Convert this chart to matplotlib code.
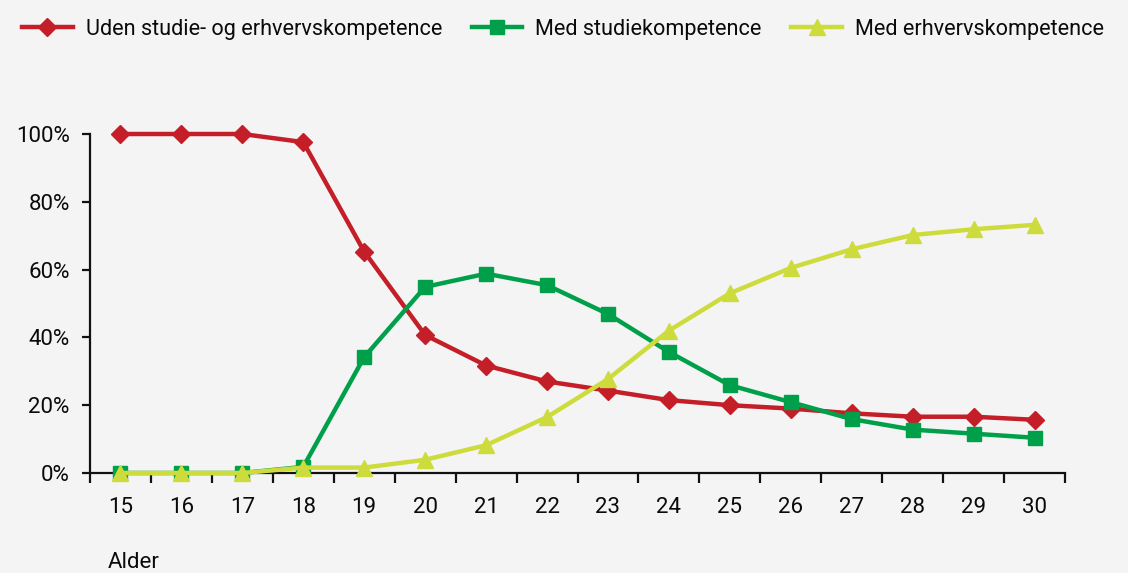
import matplotlib
matplotlib.use("Agg")
import matplotlib.pyplot as plt
from matplotlib.ticker import FixedLocator, NullFormatter, FixedFormatter

ages = list(range(15, 31))
age_labels = [str(a) for a in ages]
uden = [100, 100, 100, 97.6, 65.3, 40.7, 31.7, 27.0, 24.3, 21.5, 20.0, 19.0, 17.6, 16.6, 16.6, 15.7]
studie = [0, 0, 0, 1.8, 34.2, 54.9, 58.8, 55.4, 46.9, 35.7, 25.9, 20.9, 15.9, 12.8, 11.6, 10.4]
erhverv = [0, 0, 0, 1.6, 1.6, 3.9, 8.2, 16.5, 27.7, 42.0, 53.0, 60.5, 66.0, 70.2, 71.9, 73.2]
series_names = ["Uden studie- og erhvervskompetence", "Med studiekompetence", "Med erhvervskompetence"]
y_ticks = [0, 20, 40, 60, 80, 100]
y_labels = ["0%", "20%", "40%", "60%", "80%", "100%"]

bg = "#f4f4f4"
plt.rcParams['font.family'] = ['Roboto', 'DejaVu Sans']
fs = 16
tc = "#0a0a0a"

fig = plt.figure(figsize=(11.28, 5.73), dpi=100, facecolor=bg)
ax = fig.add_axes([90/1128, 1-473/573, (1065-90)/1128, (473-134)/573])
ax.set_facecolor(bg)

red = "#c41e28"
green = "#00a04b"
yellow = "#cddc3c"
lw = 3.2
l1, = ax.plot(ages, uden, color=red, lw=lw, marker="D", ms=9.5, clip_on=False, zorder=3, label=series_names[0])
l2, = ax.plot(ages, studie, color=green, lw=lw, marker="s", ms=10.5, clip_on=False, zorder=4, label=series_names[1])
l3, = ax.plot(ages, erhverv, color=yellow, lw=lw, marker="^", ms=12, clip_on=False, zorder=5, label=series_names[2])

ax.set_xlim(14.5, 30.5)
ax.set_ylim(0, 100)

for s in ["top", "right"]:
    ax.spines[s].set_visible(False)
for s in ["left", "bottom"]:
    ax.spines[s].set_linewidth(1.6)
    ax.spines[s].set_color("#111111")

ax.xaxis.set_major_locator(FixedLocator([a + 0.5 for a in [14] + ages]))
ax.xaxis.set_major_formatter(NullFormatter())
ax.xaxis.set_minor_locator(FixedLocator(ages))
ax.xaxis.set_minor_formatter(FixedFormatter(age_labels))
ax.tick_params(axis="x", which="major", direction="out", length=7.5, width=1.6, color="#111111")
ax.tick_params(axis="x", which="minor", length=0, pad=17, labelsize=fs, labelcolor=tc)

ax.set_yticks(y_ticks)
ax.set_yticklabels(y_labels)
ax.tick_params(axis="y", direction="out", length=5.5, width=1.6, color="#111111", pad=9, labelsize=fs, labelcolor=tc)

fig.text(108/1128, 1-563/573, "Alder", fontsize=fs, color=tc, ha="left", va="center")

leg = fig.legend(handles=[l1, l2, l3], loc="center left", bbox_to_anchor=(22/1128, 1-29/573),
                 ncol=3, frameon=False, fontsize=15.6, handlelength=2.35, columnspacing=1.35,
                 handletextpad=0.6, borderaxespad=0, borderpad=0, labelcolor=tc)

fig.savefig("out.png", dpi=100, facecolor=bg)
